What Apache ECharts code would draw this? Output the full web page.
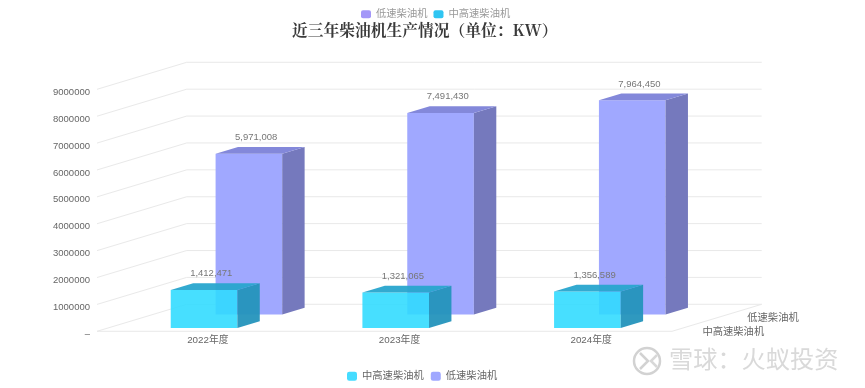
<!DOCTYPE html>
<html><head><meta charset="utf-8">
<style>html,body{margin:0;padding:0;background:#fff}#c{width:865px;height:388px}</style>
<script src="https://cdn.jsdelivr.net/npm/echarts@6/dist/echarts.min.js"></script>
</head><body><div id="c"></div>
<script>
const categories = ['2022年度', '2023年度', '2024年度'];
const lowSpeed = [5971008, 7491430, 7964450];
const midHighSpeed = [1412471, 1321065, 1356589];
const yTicks = [0, 1000000, 2000000, 3000000, 4000000, 5000000, 6000000, 7000000, 8000000, 9000000];
const nameLow = '低速柴油机';
const nameMid = '中高速柴油机';
const titleText = '近三年柴油机生产情况（单位：KW）';
const watermark = '雪球：火蚁投资';

const DX = 89.7, DY = 27;
const font = "'Liberation Sans','Noto Sans CJK SC',sans-serif";
const proj = (p, t) => [p[0] + DX * t, p[1] - DY * t];

function wallItem(params, api) {
  const p = api.coord([0, api.value(1)]);
  const cw = api.size([1, 0])[0];
  const x0 = p[0] - cw / 2, x1 = x0 + cw * categories.length;
  const a = proj([x0, p[1]], 1), b = proj([x1, p[1]], 1);
  const st = { stroke: '#e9e9e9', lineWidth: 1, fill: 'none' };
  const ln = (u, v) => ({ type: 'line', shape: { x1: u[0], y1: u[1], x2: v[0], y2: v[1] }, style: st });
  const kids = [ln([x0, p[1]], a), ln(a, b)];
  if (api.value(1) === 0) { kids.push(ln([x0, p[1]], [x1, p[1]])); kids.push(ln([x1, p[1]], b)); }
  return { type: 'group', children: kids };
}

function boxItem(t0, cols) {
  return function (params, api) {
    const i = api.value(0), v = api.value(1);
    const top = api.coord([i, v]), base = api.coord([i, 0]);
    const w = api.size([1, 0])[0] * 0.3475;
    const lx = top[0] - w / 2, rx = top[0] + w / 2;
    const t1 = t0 + 0.25;
    const fl = proj([lx, top[1]], t0), fr = proj([rx, top[1]], t0);
    const bl = proj([lx, top[1]], t1), br = proj([rx, top[1]], t1);
    const gl = proj([lx, base[1]], t0), gr = proj([rx, base[1]], t0), gb = proj([rx, base[1]], t1);
    const poly = (pts, fill) => ({ type: 'polygon', shape: { points: pts }, style: { fill: fill } });
    const c = proj([top[0], top[1]], (t0 + t1) / 2);
    return {
      type: 'group',
      children: [
        poly([gl, gr, fr, fl], cols.front),
        poly([gr, gb, br, fr], cols.side),
        poly([fl, fr, br, bl], cols.top),
        { type: 'text', x: c[0] - 4, y: c[1] - 13, style: {
          text: v.toLocaleString('en-US'), fill: '#777', font: '9.5px ' + font, align: 'center', verticalAlign: 'middle' } }
      ]
    };
  };
}

function depthLabels(params, api) {
  const p = api.coord([categories.length - 1, 0]);
  const cw = api.size([1, 0])[0];
  const xr = p[0] + cw / 2;
  const mk = (t, s) => {
    const q = proj([xr, p[1]], t);
    return { type: 'text', x: q[0] + 8, y: q[1] + 7.2, style: { text: s, fill: '#666', font: '10.3px ' + font, align: 'left', verticalAlign: 'middle' } };
  };
  return { type: 'group', children: [mk(0.25, nameMid), mk(0.75, nameLow)] };
}

const chart = echarts.init(document.getElementById('c'), null, { renderer: 'canvas' });
chart.setOption({
  animation: false,
  backgroundColor: '#fff',
  title: { text: titleText, left: 287, top: 17,
    textStyle: { fontFamily: "'Noto Serif CJK SC','Liberation Serif',serif", fontSize: 15.75, fontWeight: 'bold', color: '#3a3a3a' } },
  legend: [
    { left: 356, top: 4, itemWidth: 10, itemHeight: 8, itemGap: 6, icon: 'roundRect',
      textStyle: { fontSize: 10.3, color: '#999', fontFamily: font },
      selectedMode: false,
      data: [{ name: nameLow, itemStyle: { color: '#a397f8' } }, { name: nameMid, itemStyle: { color: '#2fc5f2' } }] },
    { left: 342, top: 366, itemWidth: 10, itemHeight: 9, itemGap: 7, icon: 'roundRect',
      textStyle: { fontSize: 10.3, color: '#666', fontFamily: font },
      selectedMode: false,
      data: [{ name: nameMid, itemStyle: { color: '#45dcff' } }, { name: nameLow, itemStyle: { color: '#a0a8ff' } }] }
  ],
  grid: { left: 97, right: 193, top: 89.3, bottom: 56.7 },
  xAxis: { type: 'category', data: categories,
    axisLine: { show: false }, axisTick: { show: false },
    axisLabel: { color: '#666', fontSize: 9.8, fontFamily: font, margin: 4, padding: [0, 0, 0, 30], hideOverlap: false } },
  yAxis: { type: 'value', min: 0, max: 9000000, interval: 1000000,
    axisLine: { show: false }, axisTick: { show: false }, splitLine: { show: false },
    axisLabel: { color: '#666', fontSize: 9.5, fontFamily: font, margin: 7, padding: [0, 0, 0, 0], verticalAlign: 'top', lineHeight: 6,
      formatter: v => v === 0 ? '–' : String(v) } },
  series: [
    { type: 'custom', silent: true, clip: false, z: 1, renderItem: wallItem, data: yTicks.map(v => [0, v]) },
    { type: 'custom', silent: true, clip: false, z: 2, renderItem: depthLabels, data: [[0, 0]] },
    { type: 'custom', name: nameLow, silent: true, clip: false, z: 3, itemStyle: { color: '#a0a8ff' },
      renderItem: boxItem(0.625, { front: '#a0a8ff', side: '#7579bd', top: '#8388da' }),
      data: lowSpeed.map((v, i) => [i, v]) },
    { type: 'custom', name: nameMid, silent: true, clip: false, z: 4, itemStyle: { color: '#45dcff' },
      renderItem: boxItem(0.125, { front: 'rgba(47,219,255,0.885)', side: 'rgba(36,148,188,0.95)', top: 'rgba(40,165,205,0.95)' }),
      data: midHighSpeed.map((v, i) => [i, v]) }
  ],
  graphic: [
    { type: 'circle', silent: true, shape: { cx: 647, cy: 361, r: 13 }, style: { fill: 'none', stroke: '#d2d2d2', lineWidth: 2.5 } },
    { type: 'polyline', silent: true, shape: { points: [[640, 353], [648, 361], [640, 369]] }, style: { fill: 'none', stroke: '#d2d2d2', lineWidth: 2.5 } },
    { type: 'polyline', silent: true, shape: { points: [[657, 355], [651, 361], [657, 367]] }, style: { fill: 'none', stroke: '#d8d8d8', lineWidth: 2.5 } },
    { type: 'text', silent: true, left: 669, top: 347, style: { text: watermark, fill: '#d9d9d9', font: "24.2px 'Noto Sans CJK SC',sans-serif" } }
  ]
});
</script></body></html>
